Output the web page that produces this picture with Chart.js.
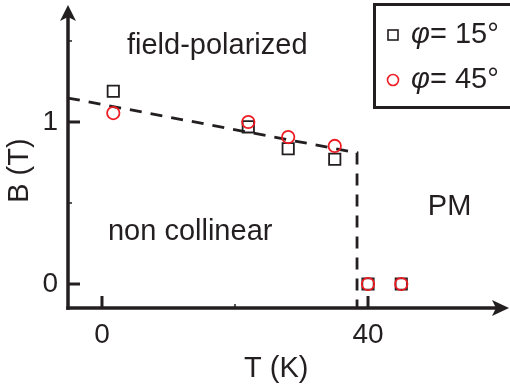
<!DOCTYPE html>
<html><head><meta charset="utf-8">
<script src="https://cdn.jsdelivr.net/npm/chart.js@4"></script>
<style>html,body{margin:0;padding:0;background:#fff;}canvas{display:block;}</style>
</head><body>
<canvas id="c" width="510" height="387"></canvas>
<script>
// ---- data ----
const temps = [1.7, 22, 28, 35, 40, 45];
const bPhi15 = [1.19, 0.97, 0.835, 0.77, 0, 0];
const bPhi45 = [1.055, 1.0, 0.907, 0.852, 0, 0];
const boundaryT = [-5.11, 38.35, 38.35];
const boundaryB = [1.148, 0.81, -0.148];
const xTicks = [0, 40];
const yTicks = [0, 1];
const xMinorTicks = [20];
const yMinorTicks = [0.5, 1.5];
const seriesNames = ['= 15°', '= 45°'];
const xTitle = 'T (K)';
const yTitle = 'B (T)';
const regionNames = ['field-polarized', 'non collinear', 'PM'];

const ink = '#231f20';
const red = '#ed1c24';
const FONT = "'Liberation Sans', Arial, Helvetica, sans-serif";
const FS = 29;

const toPts = (xs, ys) => xs.map((v, i) => ({x: v, y: ys[i]}));

const decoPlugin = {
  id: 'deco',
  beforeDatasetsDraw(chart) {
    const {ctx, chartArea: a, scales: {x, y}} = chart;
    ctx.save();
    ctx.strokeStyle = ink; ctx.fillStyle = ink;
    const x0 = a.left, y0 = a.bottom;
    ctx.lineWidth = 3.5;
    ctx.beginPath(); ctx.moveTo(x0 - 1.75, y0); ctx.lineTo(a.right - 10, y0); ctx.stroke();
    ctx.beginPath(); ctx.moveTo(x0, y0 + 1.75); ctx.lineTo(x0, a.top + 10); ctx.stroke();
    // arrow heads
    ctx.beginPath();
    ctx.moveTo(a.right + 1, y0); ctx.lineTo(a.right - 16, y0 - 8); ctx.lineTo(a.right - 12, y0); ctx.lineTo(a.right - 16, y0 + 8); ctx.closePath(); ctx.fill();
    ctx.beginPath();
    ctx.moveTo(x0, a.top); ctx.lineTo(x0 - 8, a.top + 16); ctx.lineTo(x0, a.top + 12); ctx.lineTo(x0 + 8, a.top + 16); ctx.closePath(); ctx.fill();
    // major ticks (inward)
    ctx.lineWidth = 3;
    xTicks.forEach(v => { const px = x.getPixelForValue(v); ctx.beginPath(); ctx.moveTo(px, y0); ctx.lineTo(px, y0 - 12); ctx.stroke(); });
    yTicks.forEach(v => { const py = y.getPixelForValue(v); ctx.beginPath(); ctx.moveTo(x0, py); ctx.lineTo(x0 + 12, py); ctx.stroke(); });
    ctx.lineWidth = 1.5;
    xMinorTicks.forEach(v => { const px = x.getPixelForValue(v); ctx.beginPath(); ctx.moveTo(px, y0); ctx.lineTo(px, y0 - 4); ctx.stroke(); });
    yMinorTicks.forEach(v => { const py = y.getPixelForValue(v); ctx.beginPath(); ctx.moveTo(x0, py); ctx.lineTo(x0 + 4, py); ctx.stroke(); });
    ctx.restore();
  },
  afterDraw(chart) {
    const {ctx, chartArea: a, scales: {x, y}} = chart;
    ctx.save();
    ctx.fillStyle = ink;
    ctx.font = FS + 'px ' + FONT;
    ctx.textBaseline = 'alphabetic';
    ctx.textAlign = 'left';
    // region labels in data coordinates
    const regionPos = [[3.76, 1.42], [0.9, 0.272], [49, 0.426]];
    regionNames.forEach((t, i) => ctx.fillText(t, x.getPixelForValue(regionPos[i][0]), y.getPixelForValue(regionPos[i][1])));
    // axis titles
    ctx.textAlign = 'center';
    ctx.fillText(xTitle, x.getPixelForValue(26.2), 377);
    ctx.save();
    ctx.translate(28, y.getPixelForValue(0.70));
    ctx.rotate(-Math.PI / 2);
    ctx.fillText(yTitle, 0, 0);
    ctx.restore();
    // legend
    ctx.lineWidth = 3;
    ctx.strokeStyle = ink;
    ctx.strokeRect(374.5, 4.5, 150, 103);
    const rows = [43, 88];
    ctx.lineWidth = 1.6;
    ctx.strokeStyle = ink;
    ctx.strokeRect(388, rows[0] - 13, 10, 10);
    ctx.strokeStyle = red;
    ctx.beginPath(); ctx.arc(393, rows[1] - 8, 5.5, 0, Math.PI * 2); ctx.stroke();
    ctx.textAlign = 'left';
    rows.forEach((by, i) => {
      ctx.font = 'italic ' + FS + 'px ' + FONT;
      ctx.fillText('φ', 411, by);
      const w = ctx.measureText('φ').width;
      ctx.font = FS + 'px ' + FONT;
      ctx.fillText(seriesNames[i], 411 + w, by);
    });
    ctx.restore();
  }
};

const zeroPad = s => { s.paddingLeft = 0; s.paddingRight = 0; s.paddingTop = 0; s.paddingBottom = 0; };

new Chart(document.getElementById('c'), {
  type: 'scatter',
  data: {
    datasets: [
      { label: 'φ= 45°', data: toPts(temps, bPhi45), order: 0,
        pointStyle: 'circle', pointRadius: 6.2, pointBorderWidth: 1.8,
        borderColor: red, backgroundColor: 'rgba(0,0,0,0)', pointBackgroundColor: 'rgba(0,0,0,0)', clip: false },
      { label: 'φ= 15°', data: toPts(temps, bPhi15), order: 1,
        pointStyle: 'rect', pointRadius: 8, pointBorderWidth: 1.8,
        borderColor: ink, backgroundColor: 'rgba(0,0,0,0)', pointBackgroundColor: 'rgba(0,0,0,0)', clip: false },
      { label: 'boundary', data: toPts(boundaryT, boundaryB), order: 2, showLine: true,
        borderColor: ink, borderWidth: 2.8, borderDash: [12, 9], pointRadius: 0, clip: false }
    ]
  },
  options: {
    responsive: false, animation: false, devicePixelRatio: 1,
    layout: { autoPadding: false, padding: { left: 0, right: 2, top: 5, bottom: 0 } },
    plugins: { legend: { display: false }, tooltip: { enabled: false } },
    scales: {
      x: { type: 'linear', min: -5.11, max: 61.05,
        grid: { display: false, drawTicks: false }, border: { display: false },
        afterBuildTicks: s => { s.ticks = xTicks.map(v => ({value: v})); },
        afterFit: s => { s.height = 79; zeroPad(s); },
        ticks: { color: ink, padding: 10, font: { family: FONT, size: 28 } } },
      y: { type: 'linear', min: -0.148, max: 1.722,
        grid: { display: false, drawTicks: false }, border: { display: false },
        afterBuildTicks: s => { s.ticks = yTicks.map(v => ({value: v})); },
        afterFit: s => { s.width = 68; zeroPad(s); },
        ticks: { color: ink, padding: 10, font: { family: FONT, size: 28 } } }
    }
  },
  plugins: [decoPlugin]
});
</script>
</body></html>
